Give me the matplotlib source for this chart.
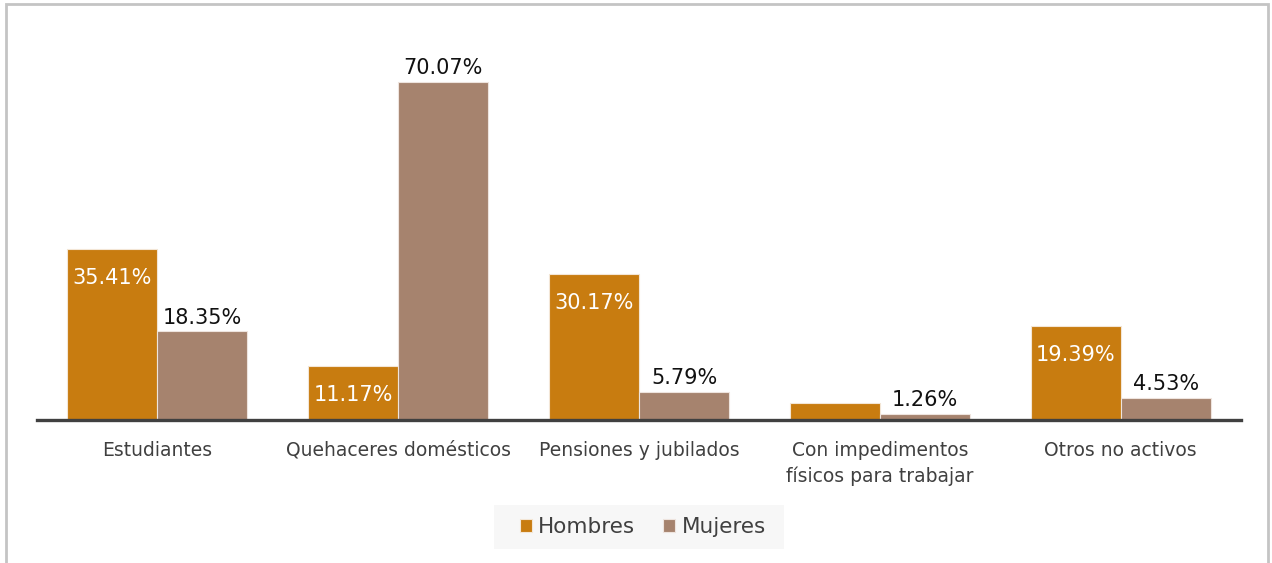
"""
Poblacion no economicamente activa por tipo de inactividad y sexo.
"""

import numpy as np
import matplotlib.pyplot as plt
from matplotlib.patches import Rectangle

# Data
categorias = ['Estudiantes', 'Quehaceres domésticos', 'Pensiones y jubilados',
              'Con impedimentos\nfísicos para trabajar', 'Otros no activos']
hombres = [35.41, 11.17, 30.17, 3.50, 19.39]
mujeres = [18.35, 70.07, 5.79, 1.26, 4.53]
etiquetas_hombres = ['35.41%', '11.17%', '30.17%', '', '19.39%']
etiquetas_mujeres = ['18.35%', '70.07%', '5.79%', '1.26%', '4.53%']

COLOR_H = '#C87C10'
COLOR_M = '#A6836E'

plt.rcParams['font.family'] = ['DejaVu Sans']

fig = plt.figure(figsize=(12.72, 5.63), dpi=100)
ax = fig.add_axes([37 / 1272, (563 - 420) / 563, (1241 - 37) / 1272, 388 / 563])

x = np.arange(len(categorias))
w = 0.374
bh = ax.bar(x - w / 2, hombres, w, color=COLOR_H, edgecolor='#f3e6d6', linewidth=0.8,
            label='Hombres')
bm = ax.bar(x + w / 2, mujeres, w, color=COLOR_M, edgecolor='#eee4de', linewidth=0.8,
            label='Mujeres')

# value labels: inside (white) for men, above (black) for women
for rect, txt in zip(bh, etiquetas_hombres):
    if txt:
        ax.annotate(txt, (rect.get_x() + rect.get_width() / 2, rect.get_height()),
                    xytext=(0, -20.5), textcoords='offset points', ha='center',
                    va='center', fontsize=15, color='white')
for rect, txt in zip(bm, etiquetas_mujeres):
    ax.annotate(txt, (rect.get_x() + rect.get_width() / 2, rect.get_height()),
                xytext=(0, 10), textcoords='offset points', ha='center',
                va='center', fontsize=15, color='#111111')

ax.set_xlim(-0.5, len(categorias) - 0.5)
ax.set_ylim(0, 388 / 4.824)
ax.set_xticks(x)
ax.set_xticklabels(categorias, fontsize=13.5, color='#404040', linespacing=1.4)
ax.tick_params(axis='x', length=0, pad=15)
ax.set_yticks([])
for s in ['top', 'right', 'left']:
    ax.spines[s].set_visible(False)
ax.spines['bottom'].set_color('#404040')
ax.spines['bottom'].set_linewidth(2.4)

# legend with light grey box
fig.patches.append(Rectangle((494 / 1272, (563 - 549) / 563), 290 / 1272, 44 / 563,
                             transform=fig.transFigure, facecolor='#f7f7f7',
                             edgecolor='none', zorder=0))
fig.legend(loc='center', bbox_to_anchor=(643 / 1272, (563 - 527) / 563), ncol=2,
           frameon=False, fontsize=15.5, handlelength=0.55, handleheight=0.55,
           handletextpad=0.3, columnspacing=1.3, labelcolor='#404040')

# outer frame
fig.patches.append(Rectangle((6 / 1272, -0.05), (1268 - 6) / 1272, (563 - 4) / 563 + 0.05,
                             transform=fig.transFigure, facecolor='none',
                             edgecolor='#c4c4c4', linewidth=2))

fig.savefig('out.png', dpi=100)
